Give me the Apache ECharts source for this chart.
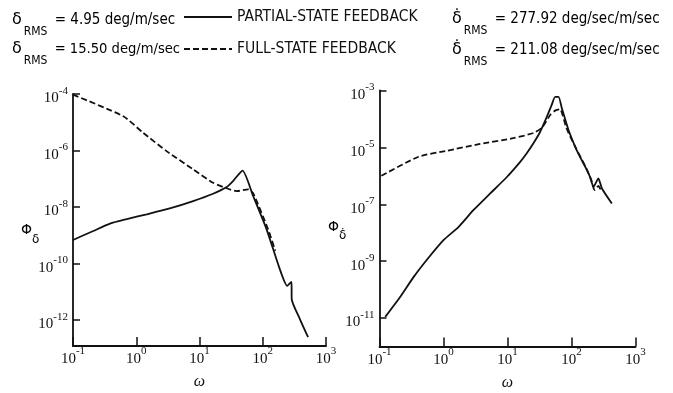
<!DOCTYPE html>
<html>
<head>
<meta charset="utf-8">
<script src="https://cdn.jsdelivr.net/npm/echarts@6/dist/echarts.min.js"></script>
<style>
html,body{margin:0;padding:0;background:#fff;}
#c{width:673px;height:393px;}
</style>
</head>
<body>
<div id="c"></div>
<script>
// ---- data (omega, Phi) ----
const leftPartial = [
  [0.1,6.8e-10],[0.209,1.41e-9],[0.385,2.57e-9],[0.708,3.72e-9],[1.46,5.5e-9],
  [3.39,8.9e-9],[7.94,1.62e-8],[16.4,2.95e-8],[26.9,5.1e-8],[33.9,8.3e-8],
  [47.9,1.95e-7],[70.5,2.45e-8],[115,1.62e-9],[186,6.3e-11],[243,1.62e-11],
  [285,2.24e-11],[287,5.5e-12],[385,1.1e-12],[521,2.45e-13]
];
const leftFull = [
  [0.1,9.5e-5],[0.624,1.62e-5],[1.29,4.2e-6],[3.02,9.5e-7],[7.94,2.14e-7],
  [16.4,7.2e-8],[26.9,4.6e-8],[38.5,3.63e-8],[58.9,4.2e-8],[70.8,3.0e-8],
  [122,1.58e-9],[158,2.8e-10]
];
const rightPartial = [
  [0.123,1.1e-11],[0.210,5.5e-11],[0.340,2.75e-10],[0.583,1.32e-9],[1.0,5.5e-9],
  [1.71,1.58e-8],[2.95,6.3e-8],[5.37,2.4e-7],[9.77,9.1e-7],[15.8,3.1e-6],
  [20.0,6.2e-6],[26.3,1.58e-5],[32.4,3.55e-5],[41.3,1.2e-4],[49.0,3.1e-4],
  [55.6,6.0e-4],[62.7,6.0e-4],[70.8,2.34e-4],[89.7,4.1e-5],[121,7.9e-6],
  [174,1.58e-6],[195,9.1e-7],[221,4.1e-7],[263,8.1e-7],[299,3.6e-7],[427,1.07e-7]
];
const rightFull = [
  [0.107,1.0e-6],[0.407,4.7e-6],[1.12,7.6e-6],[3.72,1.32e-5],[12.3,2.1e-5],
  [25.7,3.24e-5],[34.7,5.0e-5],[46.5,1.38e-4],[56.2,2.0e-4],[66.1,2.19e-4],
  [83.2,4.8e-5],[117,9.5e-6],[170,1.86e-6],[204,7.1e-7],[229,3.16e-7],
  [263,4.4e-7],[288,3.16e-7]
];
const xTicks = [0.1, 1, 10, 100, 1000];
const yTicksLeft = [1e-4, 1e-6, 1e-8, 1e-10, 1e-12];
const yTicksRight = [1e-3, 1e-5, 1e-7, 1e-9, 1e-11];
const seriesNames = ['PARTIAL-STATE FEEDBACK', 'FULL-STATE FEEDBACK'];
const rmsLeft = ['4.95', '15.50'];
const rmsRight = ['277.92', '211.08'];

// ---- styles ----
const INK = '#111';
const SANS = '"DejaVu Sans Condensed","DejaVu Sans",sans-serif';
const SERIF = '"Liberation Serif","DejaVu Serif",serif';
const powFmt = v => '{b|10}{s|' + Math.round(Math.log10(v)) + '}';
const yRich = {
  b: {fontFamily: SERIF, fontSize: 15, color: INK, padding: [9,0,0,0]},
  s: {fontFamily: SERIF, fontSize: 11, color: INK, padding: [0,0,6,0]}
};
const xRich = {
  b: {fontFamily: SERIF, fontSize: 15, color: INK, padding: [6,0,0,0]},
  s: {fontFamily: SERIF, fontSize: 11, color: INK, padding: [0,0,10,0]}
};
function xAxisCfg(gi) {
  return {
    type: 'log', gridIndex: gi, min: 0.1, max: 1000,
    name: 'ω', nameLocation: 'middle', nameGap: 28, nameMoveOverlap: false,
    nameTextStyle: {fontFamily: SERIF, fontStyle: 'italic', fontSize: 16, color: INK},
    axisLine: {show: true, lineStyle: {color: INK, width: 1.8}},
    axisTick: {show: true, inside: true, length: 9, customValues: xTicks, lineStyle: {color: INK, width: 1.5}},
    axisLabel: {customValues: xTicks, formatter: powFmt, rich: xRich, margin: 0, color: INK},
    splitLine: {show: false}
  };
}
function yAxisCfg(gi, min, max, ticks) {
  return {
    type: 'log', gridIndex: gi, min: min, max: max,
    axisLine: {show: true, lineStyle: {color: INK, width: 1.8}},
    axisTick: {show: true, inside: true, length: 7, customValues: ticks, lineStyle: {color: INK, width: 1.5}},
    axisLabel: {customValues: ticks, formatter: powFmt, rich: yRich, margin: 5, color: INK},
    splitLine: {show: false}
  };
}
function lineSeries(name, data, gi, dashed) {
  return {
    name: name, type: 'line', xAxisIndex: gi, yAxisIndex: gi, data: data,
    symbol: 'none', smooth: 0.2,
    lineStyle: {color: INK, width: 1.8, type: dashed ? [6,3] : 'solid'},
    itemStyle: {color: INK}
  };
}
function rmsText(x, y, sym, val, unit, size) {
  return {
    type: 'text', left: x, top: y,
    style: {
      text: '{d|' + sym + '}{r|RMS}{t| = ' + val + ' ' + unit + '}',
      rich: {
        d: {fontFamily: '"DejaVu Sans",sans-serif', fontSize: 16, color: INK},
        r: {fontFamily: SANS, fontSize: 12, color: INK, padding: [24,3,0,2]},
        t: {fontFamily: SANS, fontSize: size, color: INK}
      }
    }
  };
}

const chart = echarts.init(document.getElementById('c'), null, {renderer: 'canvas'});
chart.setOption({
  backgroundColor: '#fff',
  animation: false,
  grid: [
    {left: 73, top: 94, width: 253, height: 252, containLabel: false, outerBoundsMode: 'none'},
    {left: 379.5, top: 90.5, width: 256, height: 256, containLabel: false, outerBoundsMode: 'none'}
  ],
  xAxis: [xAxisCfg(0), xAxisCfg(1)],
  yAxis: [
    yAxisCfg(0, 1.2e-13, 1e-4, yTicksLeft),
    yAxisCfg(1, 1e-12, 1e-3, yTicksRight)
  ],
  legend: {
    data: seriesNames, orient: 'vertical', left: 183, top: 9, padding: 0,
    itemWidth: 48, itemHeight: 14, itemGap: 16, selectedMode: false,
    itemStyle: {opacity: 0},
    textStyle: {fontFamily: SANS, fontSize: 15.5, color: INK}
  },
  series: [
    lineSeries(seriesNames[0], leftPartial, 0, false),
    lineSeries(seriesNames[1], leftFull, 0, true),
    lineSeries(seriesNames[0], rightPartial, 1, false),
    lineSeries(seriesNames[1], rightFull, 1, true)
  ],
  graphic: [
    rmsText(12, 12, 'δ', rmsLeft[0], 'deg/m/sec', 15),
    rmsText(12, 41, 'δ', rmsLeft[1], 'deg/m/sec', 14.6),
    rmsText(452, 11, 'δ\u0307', rmsRight[0], 'deg/sec/m/sec', 15),
    rmsText(452, 42, 'δ\u0307', rmsRight[1], 'deg/sec/m/sec', 15),
    {type: 'text', left: 21, top: 223, style: {
      text: '{p|Φ}{q|δ}', rich: {
        p: {fontFamily: '"DejaVu Sans",sans-serif', fontSize: 14, color: INK},
        q: {fontFamily: '"DejaVu Sans",sans-serif', fontSize: 12, color: INK, padding: [20,0,0,0]}
      }}},
    {type: 'text', left: 328, top: 220, style: {
      text: '{p|Φ}{q|δ\u0307}', rich: {
        p: {fontFamily: '"DejaVu Sans",sans-serif', fontSize: 14, color: INK},
        q: {fontFamily: '"DejaVu Sans",sans-serif', fontSize: 12, color: INK, padding: [18,0,0,0]}
      }}}
  ]
});
</script>
</body>
</html>
